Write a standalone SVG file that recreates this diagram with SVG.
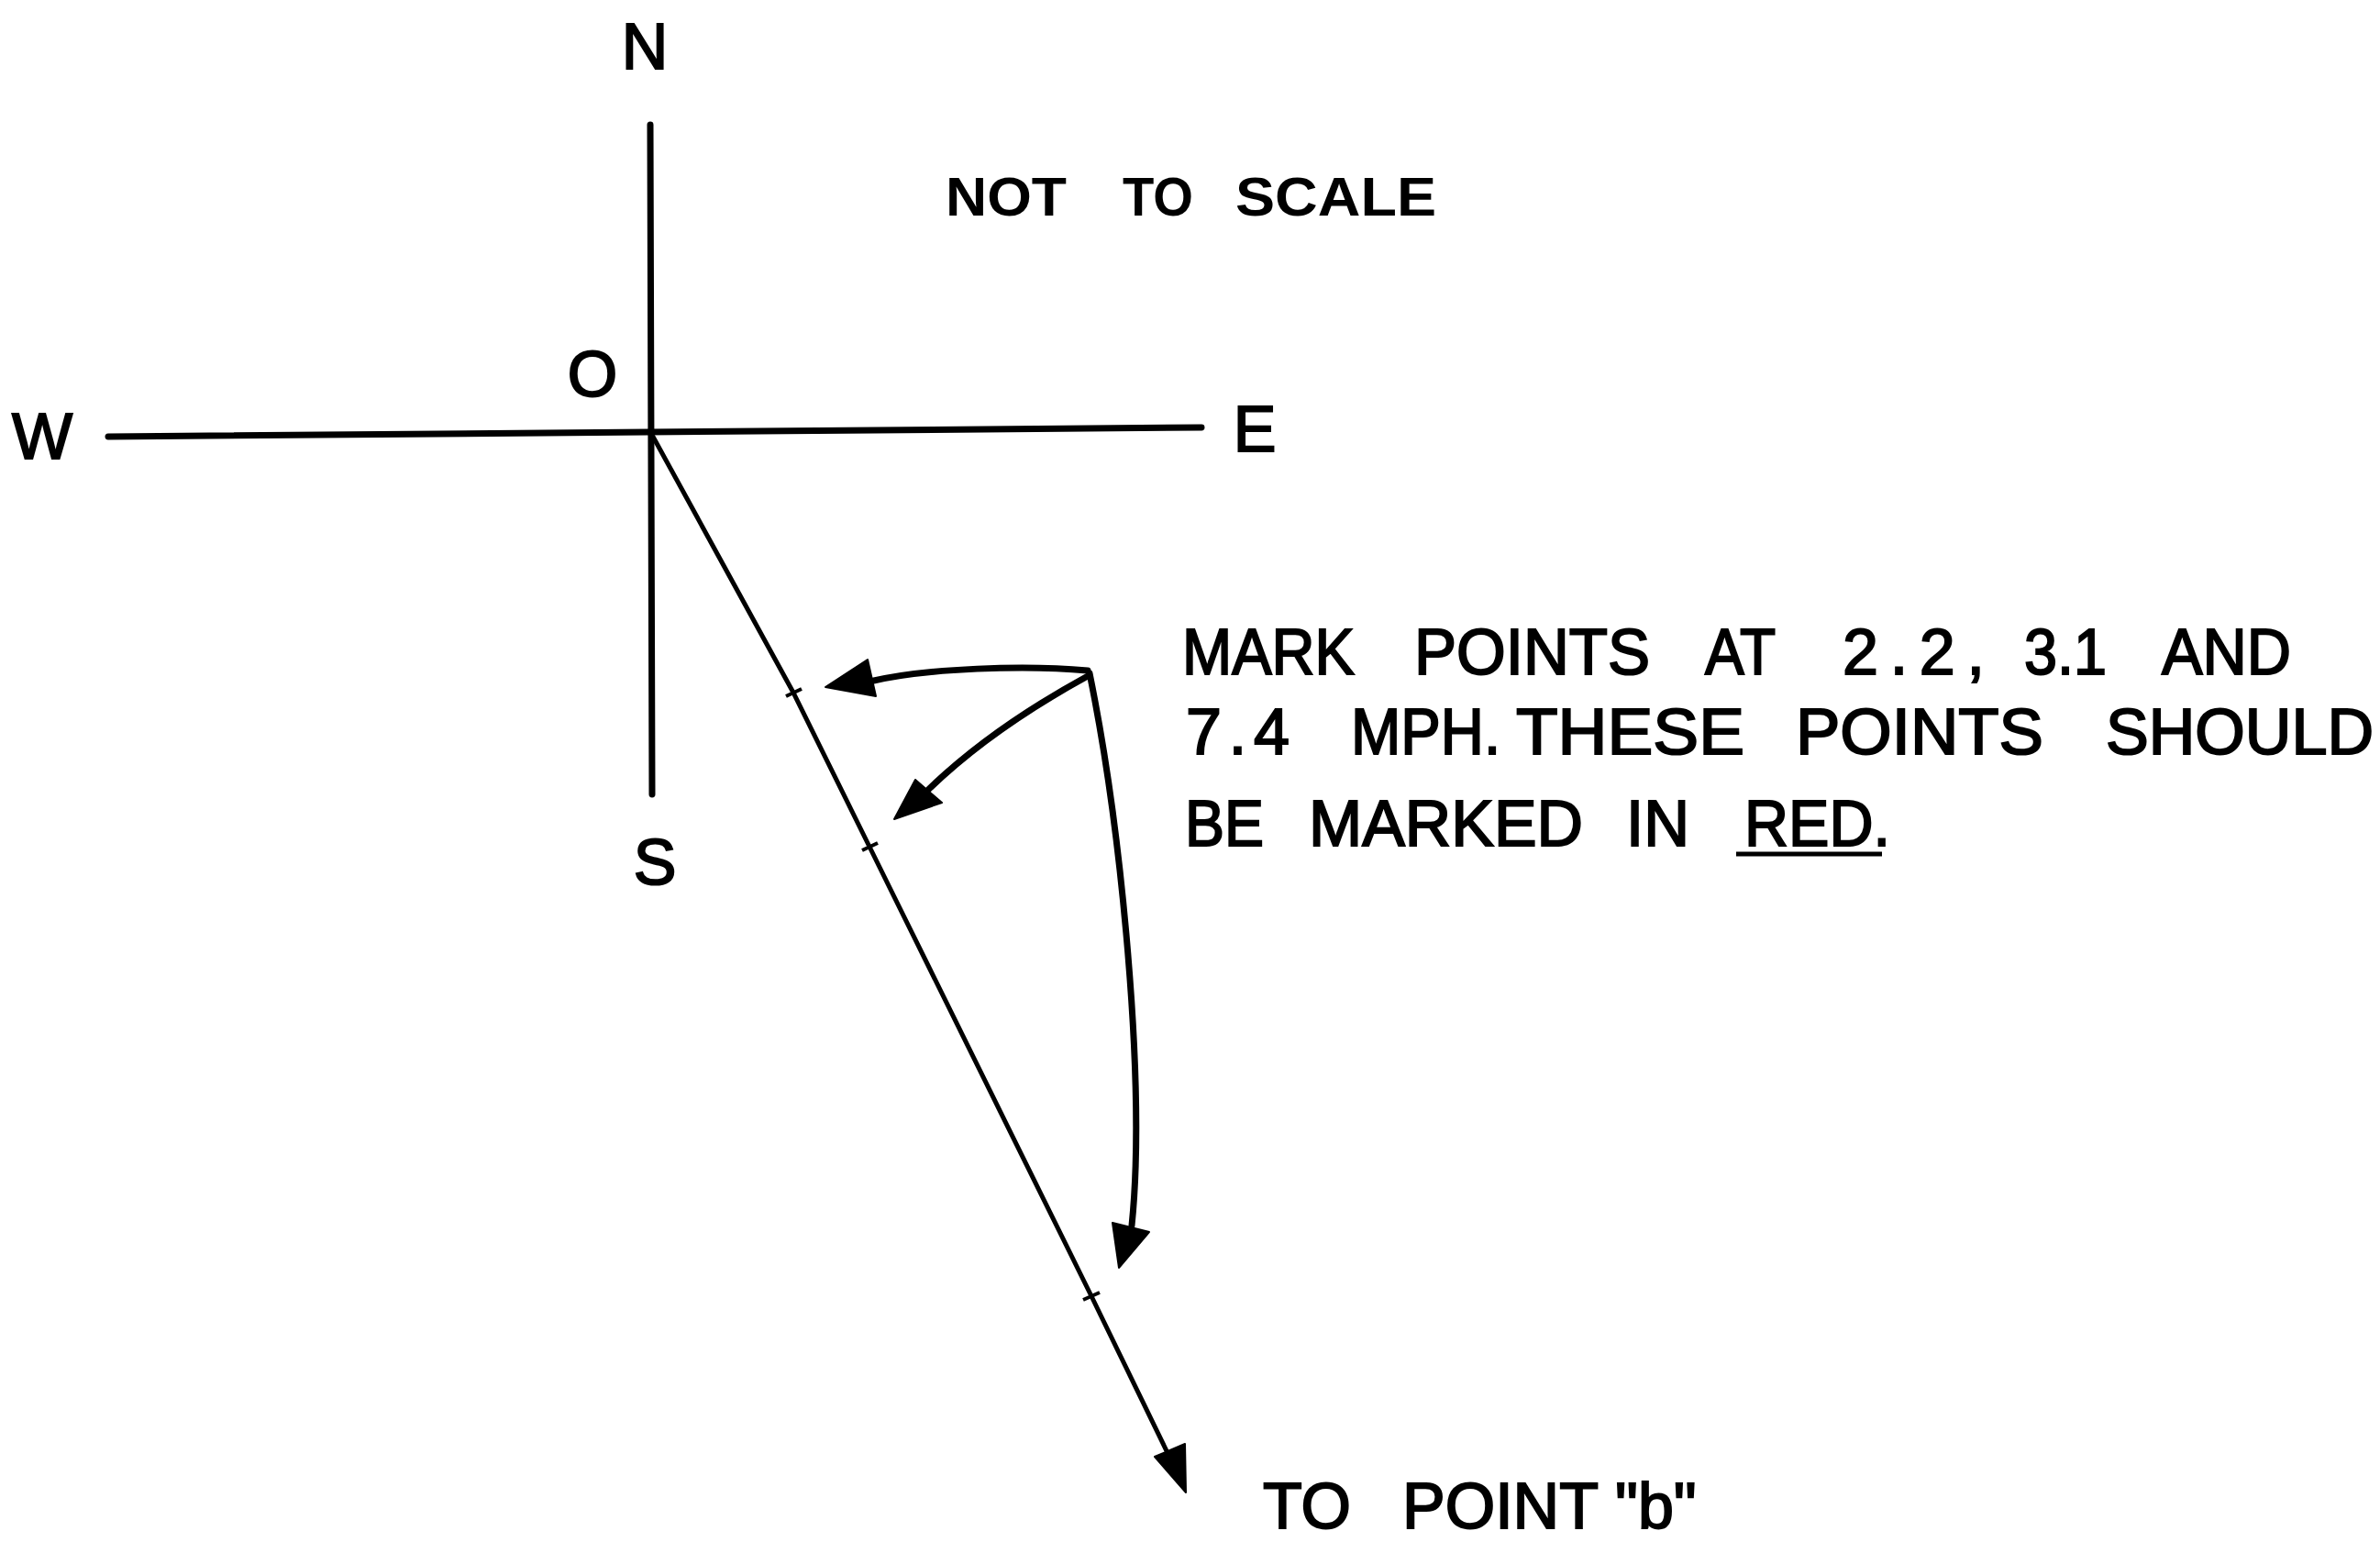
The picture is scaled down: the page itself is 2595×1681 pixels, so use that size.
<svg xmlns="http://www.w3.org/2000/svg" width="2595" height="1681" viewBox="0 0 2595 1681">
<style>
  .t { font-family: "Liberation Sans", Arial, sans-serif; font-size: 70px; fill: #000; stroke: #000; stroke-width: 2; }
  .tb { font-family: "Liberation Sans", Arial, sans-serif; font-size: 59px; font-weight: bold; fill: #000; }
  .ax { stroke: #000; stroke-width: 7; fill: none; stroke-linecap: round; }
  .dg { stroke: #000; stroke-width: 5; fill: none; stroke-linejoin: round; stroke-linecap: round; }
  .cl { stroke: #000; stroke-width: 7; fill: none; stroke-linecap: round; stroke-linejoin: round; }
  .hd { fill: #000; stroke: #000; stroke-width: 2; stroke-linejoin: round; }
  .tk { stroke: #000; stroke-width: 4; }
</style>
<rect x="0" y="0" width="2595" height="1681" fill="#fff"/>

<g id="axes">
  <line class="ax" x1="709" y1="136" x2="711" y2="866"/>
  <line class="ax" x1="118" y1="476" x2="1310" y2="466"/>
</g>

<g id="labels-compass">
  <text class="t" x="703" y="75" text-anchor="middle">N</text>
  <text class="t" x="646" y="432" text-anchor="middle">O</text>
  <text class="t" x="46" y="500" text-anchor="middle">W</text>
  <text class="t" x="1368" y="492" text-anchor="middle">E</text>
  <text class="t" x="714" y="964" text-anchor="middle">S</text>
</g>

<g id="note-scale">
  <text class="tb" x="1031" y="235" textLength="132" lengthAdjust="spacingAndGlyphs">NOT</text>
  <text class="tb" x="1224" y="235" textLength="77" lengthAdjust="spacingAndGlyphs">TO</text>
  <text class="tb" x="1347" y="235" textLength="219" lengthAdjust="spacingAndGlyphs">SCALE</text>
</g>

<g id="connectors">
  <path id="course-line" class="dg" d="M712,476 L865,755 L948,923 L1190,1413 L1277,1592"/>
  <polygon class="hd" points="1293,1627 1259,1588 1292,1574"/>
  <line class="tk" x1="857" y1="759" x2="874" y2="751"/>
  <line class="tk" x1="940" y1="927" x2="957" y2="919"/>
  <line class="tk" x1="1181" y1="1417" x2="1199" y2="1409"/>

  <path id="callout-1" class="cl" d="M1186,731 C1120,725 1010,728 948,743"/>
  <polygon class="hd" points="900,749 946,719 955,759"/>

  <path id="callout-2" class="cl" d="M1186,737 Q1080,795 1012,861"/>
  <polygon class="hd" points="975,893 998,850 1027,875"/>

  <path id="callout-3" class="cl" d="M1188,734 C1222,900 1250,1180 1234,1336"/>
  <polygon class="hd" points="1220,1382 1213,1333 1253,1343"/>
</g>

<g id="note-mark">
  <text class="t" x="1289" y="735" textLength="188" lengthAdjust="spacingAndGlyphs">MARK</text>
  <text class="t" x="1542" y="735" textLength="257" lengthAdjust="spacingAndGlyphs">POINTS</text>
  <text class="t" x="1859" y="735" textLength="77" lengthAdjust="spacingAndGlyphs">AT</text>
  <text class="t" x="2009" y="735" textLength="155" lengthAdjust="spacing">2.2,</text>
  <text class="t" x="2207" y="735" textLength="90" lengthAdjust="spacingAndGlyphs">3.1</text>
  <text class="t" x="2357" y="735" textLength="141" lengthAdjust="spacingAndGlyphs">AND</text>

  <text class="t" x="1293" y="822" textLength="113" lengthAdjust="spacing">7.4</text>
  <text class="t" x="1473" y="822" textLength="163" lengthAdjust="spacingAndGlyphs">MPH.</text>
  <text class="t" x="1653" y="822" textLength="249" lengthAdjust="spacingAndGlyphs">THESE</text>
  <text class="t" x="1958" y="822" textLength="270" lengthAdjust="spacingAndGlyphs">POINTS</text>
  <text class="t" x="2296" y="822" textLength="292" lengthAdjust="spacingAndGlyphs">SHOULD</text>

  <text class="t" x="1292" y="922" textLength="86" lengthAdjust="spacingAndGlyphs">BE</text>
  <text class="t" x="1427" y="922" textLength="299" lengthAdjust="spacingAndGlyphs">MARKED</text>
  <text class="t" x="1773" y="922" textLength="69" lengthAdjust="spacingAndGlyphs">IN</text>
  <text class="t" x="1902" y="922" textLength="159" lengthAdjust="spacingAndGlyphs">RED.</text>
  <line x1="1893" y1="931" x2="2052" y2="931" stroke="#000" stroke-width="5"/>
</g>

<g id="note-point-b">
  <text class="t" x="1377" y="1666" font-size="68">TO</text>
  <text class="t" x="1529" y="1666" font-size="68">POINT "b"</text>
</g>
</svg>
